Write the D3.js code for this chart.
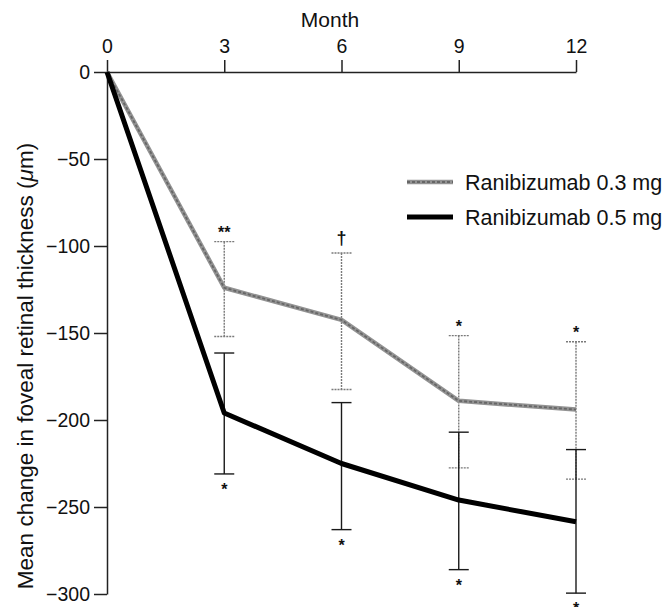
<!DOCTYPE html>
<html>
<head>
<meta charset="utf-8">
<script src="https://cdn.jsdelivr.net/npm/d3@7"></script>
<style>
  body { margin: 0; background: #fff; }
  svg { display: block; font-family: "Liberation Sans", Arial, sans-serif; }
</style>
</head>
<body>
<div id="chart"></div>
<script>
// values
const months = [0, 3, 6, 9, 12];
const yTicks = [0, -50, -100, -150, -200, -250, -300];

const mean03 = [0, -124, -142.5, -189, -194];
const upper03 = [null, -97.5, -104, -151.5, -155];
const lower03 = [null, -152, -182.5, -227.5, -234];

const mean05 = [0, -196, -225, -246, -258.5];
const upper05 = [null, -161.5, -190, -207, -217];
const lower05 = [null, -231, -263, -286, -299.5];

const marksAbove = ["", "**", "\u2020", "*", "*"];
const marksBelow = ["", "*", "*", "*", "*"];

const seriesNames = ["Ranibizumab 0.3 mg", "Ranibizumab 0.5 mg"];

const width = 671, height = 607;

const svg = d3.select("#chart").append("svg")
  .attr("width", width)
  .attr("height", height);

const x = d3.scaleLinear().domain([0, 12]).range([107, 576]);
const y = d3.scaleLinear().domain([0, -300]).range([72, 594]);

// axes
const xAxis = svg.append("g")
  .attr("transform", `translate(0,${y(0)})`)
  .call(d3.axisTop(x).tickValues(months).tickSize(12).tickSizeOuter(0).tickPadding(7));

const yAxis = svg.append("g")
  .attr("transform", `translate(${x(0)},0)`)
  .call(d3.axisLeft(y).tickValues(yTicks).tickSize(13).tickSizeOuter(0).tickPadding(4));

[xAxis, yAxis].forEach(a => {
  a.selectAll("path, line").attr("stroke", "#222").attr("stroke-width", 1.5);
  a.selectAll("text").attr("font-size", 19.5).attr("fill", "#111");
});

svg.append("text")
  .attr("x", 330)
  .attr("y", 27)
  .attr("text-anchor", "middle")
  .attr("font-size", 21)
  .attr("fill", "#111")
  .text("Month");

const ylab = svg.append("text")
  .attr("transform", "translate(33,366) rotate(-90)")
  .attr("text-anchor", "middle")
  .attr("font-size", 22.5)
  .attr("fill", "#111");
ylab.append("tspan").text("Mean change in foveal retinal thickness (");
ylab.append("tspan").attr("font-style", "italic").text("\u03bc");
ylab.append("tspan").text("m)");

// error bars
const capW = 10;
function errorBars(upper, lower, color, dash, cls) {
  const idx = months.map((m, i) => i).filter(i => upper[i] !== null);
  const g = svg.append("g").attr("class", cls)
    .attr("stroke", color).attr("stroke-width", 1.4).attr("fill", "none");
  g.selectAll(".v").data(idx).enter().append("line")
    .attr("x1", i => x(months[i])).attr("x2", i => x(months[i]))
    .attr("y1", i => y(upper[i])).attr("y2", i => y(lower[i]))
    .attr("stroke-dasharray", dash);
  g.selectAll(".cu").data(idx).enter().append("line")
    .attr("x1", i => x(months[i]) - capW).attr("x2", i => x(months[i]) + capW)
    .attr("y1", i => y(upper[i])).attr("y2", i => y(upper[i]))
    .attr("stroke-dasharray", dash);
  g.selectAll(".cl").data(idx).enter().append("line")
    .attr("x1", i => x(months[i]) - capW).attr("x2", i => x(months[i]) + capW)
    .attr("y1", i => y(lower[i])).attr("y2", i => y(lower[i]))
    .attr("stroke-dasharray", dash);
}
errorBars(upper03, lower03, "#7a7a7a", "2,1", "err03");
errorBars(upper05, lower05, "#1a1a1a", null, "err05");

// lines
const line = d3.line().x((d, i) => x(months[i])).y(d => y(d));

function grayLine(sel) {
  sel.append("path").attr("fill", "none").attr("stroke", "#939393")
    .attr("stroke-width", 4.5).attr("stroke-linejoin", "round");
  sel.append("path").attr("fill", "none").attr("stroke", "#666")
    .attr("stroke-width", 1.8).attr("stroke-dasharray", "3,2");
}

const g03 = svg.append("g");
grayLine(g03);
g03.selectAll("path").attr("d", line(mean03));

svg.append("path")
  .attr("d", line(mean05))
  .attr("fill", "none")
  .attr("stroke", "#000")
  .attr("stroke-width", 5)
  .attr("stroke-linejoin", "round");

// significance marks
const markOffset = 13;
svg.selectAll(".above").data(months.map((m, i) => i).filter(i => marksAbove[i]))
  .enter().append("text")
  .attr("x", i => x(months[i]))
  .attr("y", i => y(upper03[i]) - markOffset + (marksAbove[i] === "\u2020" ? 4 : 9))
  .attr("text-anchor", "middle")
  .attr("font-size", i => marksAbove[i] === "\u2020" ? 18 : 16)
  .attr("font-weight", "bold")
  .attr("fill", "#111")
  .text(i => marksAbove[i]);

svg.selectAll(".below").data(months.map((m, i) => i).filter(i => marksBelow[i]))
  .enter().append("text")
  .attr("x", i => x(months[i]))
  .attr("y", i => y(lower05[i]) + markOffset + 8)
  .attr("text-anchor", "middle")
  .attr("font-size", 16)
  .attr("font-weight", "bold")
  .attr("fill", "#111")
  .text(i => marksBelow[i]);

// legend
const legend = svg.append("g").attr("transform", "translate(407,182)");
const l1 = legend.append("g");
grayLine(l1);
l1.selectAll("path").attr("d", "M0,0H46");
legend.append("path").attr("d", "M0,35H46").attr("stroke", "#000").attr("stroke-width", 5);
legend.selectAll(".lt").data(seriesNames).enter().append("text")
  .attr("x", 58)
  .attr("y", (d, i) => i * 35)
  .attr("dy", "0.35em")
  .attr("font-size", 21.5)
  .attr("fill", "#111")
  .text(d => d);
</script>
</body>
</html>
